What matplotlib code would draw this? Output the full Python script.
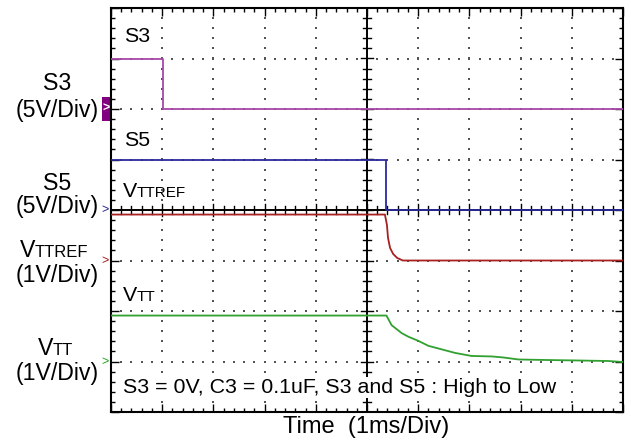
import matplotlib
matplotlib.use("Agg")
import matplotlib.pyplot as plt
import matplotlib.patches as mpatches
import numpy as np

plt.rcParams['font.family'] = ['Liberation Sans', 'DejaVu Sans']

## trace data, time in divisions (1ms/Div), level in divisions from bottom
s3_t = [0, 1.02, 1.02, 10]
s3_v = [7.0, 7.0, 6.0, 6.0]
s5_t = [0, 5.38, 5.38, 10]
s5_v = [4.99, 4.99, 4.0, 4.0]
vttref_t = [0, 5.35, 5.39, 5.41, 5.45, 5.51, 5.59, 5.70, 10]
vttref_v = [3.91, 3.91, 3.70, 3.45, 3.25, 3.13, 3.05, 3.0, 3.0]
vtt_t = [0, 5.38, 5.48, 5.68, 5.81, 6.00, 6.20, 6.46, 6.72, 7.04, 7.44, 7.66,
         7.96, 8.48, 9.12, 9.71, 10]
vtt_v = [1.91, 1.91, 1.72, 1.56, 1.49, 1.41, 1.31, 1.24, 1.17, 1.11, 1.10, 1.08,
         1.04, 1.03, 1.02, 1.01, 0.99]

## channel ground markers
ref_levels = [6, 4, 3, 1]
ref_colors = ['#800080', '#202090', '#a01818', '#20a020']

W, H = 631, 448
fig = plt.figure(figsize=(W / 100, H / 100), dpi=100)
ax = fig.add_axes([111 / W, 1 - 412 / H, 512 / W, 404 / H])
ax.set_xlim(0, 10)
ax.set_ylim(0, 8)

def fx(px):
    return px / W

def fy(py):
    return 1 - py / H

## dotted grid
for gx in range(1, 10):
    if gx == 5:
        continue
    yy = np.arange(0.2, 8, 0.2)
    ax.scatter(np.full_like(yy, gx), yy, s=1.2, marker='s', color='#555555', linewidths=0, zorder=1)
for gy in range(1, 8):
    if gy == 4:
        continue
    xx = np.arange(0.2, 10, 0.2)
    ax.scatter(xx, np.full_like(xx, gy), s=1.2, marker='s', color='#555555', linewidths=0, zorder=1)

## center axes with ticks
ax.axvline(5, color='black', lw=1.4, zorder=2)
ax.axhline(4, color='black', lw=1.4, zorder=2)
for i, ty in enumerate(np.arange(0.2, 8, 0.2)):
    d = 0.12 if (i + 1) % 5 == 0 else 0.07
    ax.plot([5 - d, 5 + d], [ty, ty], color='black', lw=1.0, zorder=2)
for i, tx in enumerate(np.arange(0.2, 10, 0.2)):
    d = 0.12 if (i + 1) % 5 == 0 else 0.07
    ax.plot([tx, tx], [4 - d, 4 + d], color='black', lw=1.0, zorder=2)

## traces
ax.plot(s3_t, s3_v, color='#a848a8', lw=1.3, zorder=3)
ax.plot(s5_t, s5_v, color='#2a2a9a', lw=1.3, zorder=3)
ax.plot(vttref_t, vttref_v, color='#a82020', lw=1.3, zorder=3)
ax.plot(vtt_t, vtt_v, color='#30a030', lw=1.3, zorder=3)

ax.xaxis.set_major_locator(plt.MultipleLocator(1))
ax.xaxis.set_minor_locator(plt.MultipleLocator(0.2))
ax.yaxis.set_major_locator(plt.MultipleLocator(1))
ax.yaxis.set_minor_locator(plt.MultipleLocator(0.2))
ax.tick_params(which='both', direction='in', top=True, right=True,
               labelbottom=False, labelleft=False, width=1.0)
ax.tick_params(which='major', length=5.5)
ax.tick_params(which='minor', length=3)
for sp in ax.spines.values():
    sp.set_linewidth(1.5)

## ground markers at left edge
ax.add_patch(mpatches.Rectangle((-0.18, ref_levels[0] - 0.24), 0.18, 0.48,
                                facecolor=ref_colors[0], edgecolor='none',
                                transform=ax.transData, clip_on=False))
ax.text(-0.03, ref_levels[0], '>', color='white', fontsize=9, ha='right', va='center',
        fontweight='bold', clip_on=False)
for lvl, c in zip(ref_levels[1:], ref_colors[1:]):
    ax.text(-0.05, lvl, '>', color=c, fontsize=9, ha='right', va='center', clip_on=False)

## left channel labels
big = 16.7
fig.text(fx(57.5), fy(90), 'S3', fontsize=big, ha='center', va='baseline')
fig.text(fx(57.5), fy(117), '(5V/Div)', fontsize=big, ha='center', va='baseline')
fig.text(fx(57.5), fy(190), 'S5', fontsize=big, ha='center', va='baseline')
fig.text(fx(57.5), fy(213), '(5V/Div)', fontsize=big, ha='center', va='baseline')
fig.text(fx(35), fy(257), 'V', fontsize=big, ha='right', va='baseline')
fig.text(fx(35), fy(257), 'TTREF', fontsize=12, ha='left', va='baseline')
fig.text(fx(57.5), fy(282), '(1V/Div)', fontsize=big, ha='center', va='baseline')
fig.text(fx(53), fy(355), 'V', fontsize=big, ha='right', va='baseline')
fig.text(fx(53), fy(355), 'TT', fontsize=12, ha='left', va='baseline')
fig.text(fx(57.5), fy(380), '(1V/Div)', fontsize=big, ha='center', va='baseline')

## labels inside the screen
mid = 15.4
fig.text(fx(124), fy(42), 'S3', fontsize=mid, va='baseline')
fig.text(fx(124), fy(146), 'S5', fontsize=mid, va='baseline')
fig.text(fx(137), fy(197), 'V', fontsize=mid, ha='right', va='baseline')
fig.text(fx(137), fy(197), 'TTREF', fontsize=11, ha='left', va='baseline')
fig.text(fx(137), fy(301), 'V', fontsize=mid, ha='right', va='baseline')
fig.text(fx(137), fy(301), 'TT', fontsize=11, ha='left', va='baseline')
fig.text(fx(123), fy(393), 'S3 = 0V, C3 = 0.1uF, S3 and S5 : High to Low',
         fontsize=mid, va='baseline', zorder=5,
         bbox=dict(facecolor='white', edgecolor='none', pad=1))

fig.text(fx(366), fy(433), 'Time  (1ms/Div)', fontsize=17, ha='center', va='baseline')

fig.savefig('out.png', dpi=100)
